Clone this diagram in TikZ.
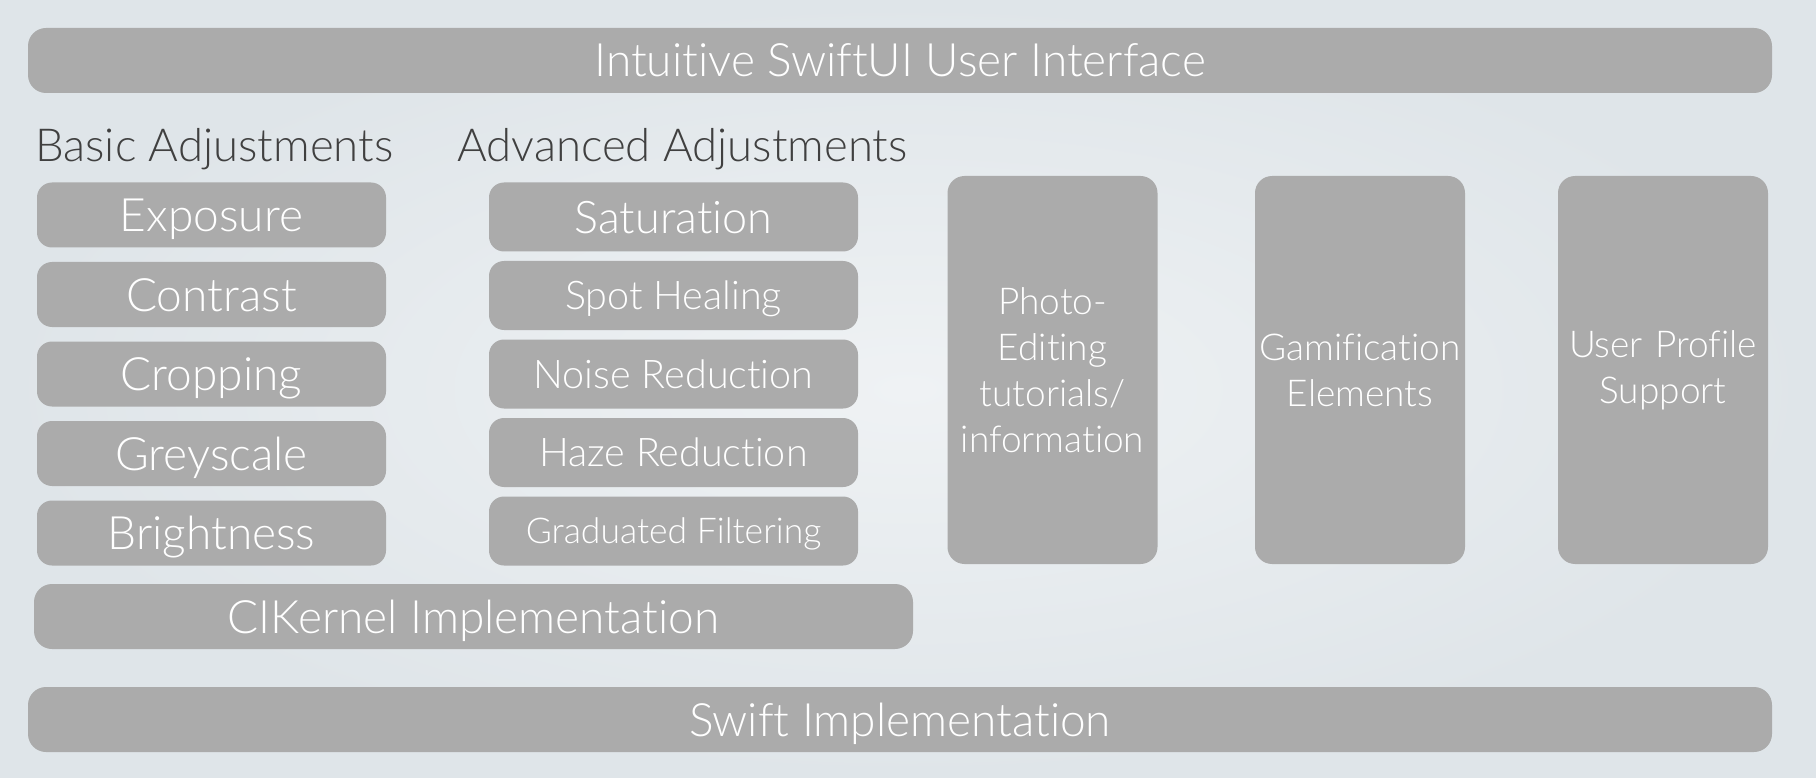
\documentclass[tikz,border=0pt]{standalone}
\usepackage{fontspec}
\IfFontExistsTF{Lato Light}{\setmainfont{Lato Light}[Ligatures=NoCommon]}{\setmainfont{Lato}[Ligatures=NoCommon]}
\usetikzlibrary{shapes,arrows}
\definecolor{boxgrey}{HTML}{ABABAB}
\definecolor{labelgrey}{HTML}{404040}
\definecolor{bgin}{HTML}{EFF2F4}
\definecolor{bgout}{HTML}{DFE5E9}
\tikzstyle{bar} = [rectangle, fill=boxgrey, text=white, rounded corners=18pt,
    minimum width=1744pt, minimum height=65pt, inner sep=0pt,
    text height=33pt, text depth=0pt, font=\fontsize{46}{56}\selectfont]
\tikzstyle{basic} = [rectangle, fill=boxgrey, text=white, rounded corners=15pt,
    minimum width=349pt, minimum height=65pt, inner sep=0pt,
    text height=33pt, text depth=0pt, font=\fontsize{46}{56}\selectfont]
\tikzstyle{advanced} = [rectangle, fill=boxgrey, text=white, rounded corners=15pt,
    minimum width=369pt, minimum height=69pt, inner sep=0pt,
    text height=28.3pt, text depth=0pt, font=\fontsize{39.5}{48}\selectfont]
\tikzstyle{tall} = [rectangle, fill=boxgrey, text=white, rounded corners=17pt,
    minimum width=210pt, text width=210pt, minimum height=388pt, inner sep=0pt,
    align=center, font=\fontsize{37}{46}\selectfont]
\tikzstyle{heading} = [text=labelgrey, anchor=base west, inner sep=0pt,
    font=\fontsize{45.5}{56}\selectfont]

\begin{document}
\begin{tikzpicture}[x=1pt, y=-1pt, node distance=79.5pt]
    % Background
    \shade [inner color=bgin, outer color=bgout] (0,0) rectangle (1816,778);
    \useasboundingbox (0,0) rectangle (1816,778);
    % Place nodes
    \node [bar] (UI) at (900,60.5) {Intuitive SwiftUI User Interface};
    \node [heading] (BasicHead) at (35,162) {Basic Adjustments};
    \node [heading] (AdvancedHead) at (457,162) {Advanced Adjustments};
    \node [basic] (Exposure) at (211.5,215) {Exposure};
    \node [basic, below of=Exposure] (Contrast) {Contrast};
    \node [basic, below of=Contrast] (Cropping) {Cropping};
    \node [basic, below of=Cropping] (Greyscale) {Greyscale};
    \node [basic, below of=Greyscale] (Brightness) {Brightness};
    \node [advanced, text height=32.2pt, font=\fontsize{45}{56}\selectfont] (Saturation) at (673.5,217) {Saturation};
    \node [advanced, below of=Saturation, node distance=78.5pt] (SpotHealing) {Spot Healing};
    \node [advanced, below of=SpotHealing, node distance=78.5pt] (NoiseReduction) {Noise Reduction};
    \node [advanced, below of=NoiseReduction, node distance=78.5pt] (HazeReduction) {Haze Reduction};
    \node [advanced, below of=HazeReduction, node distance=78.5pt, text height=25.4pt,
        font=\fontsize{35.5}{44}\selectfont] (Graduated) {Graduated Filtering};
    \node [tall] (Tutorials) at (1052.5,370) {Photo-\\Editing\\tutorials/\\information};
    \node [tall, right of=Tutorials, node distance=307.5pt] (Gamification) {Gamification\\Elements};
    \node [tall, right of=Gamification, node distance=303pt] (UserProfile) {User Profile\\Support};
    \node [bar, minimum width=879pt] (CIKernel) at (473.5,616.5) {CIKernel Implementation};
    \node [bar] (Swift) at (900,719.5) {Swift Implementation};
\end{tikzpicture}
\end{document}
